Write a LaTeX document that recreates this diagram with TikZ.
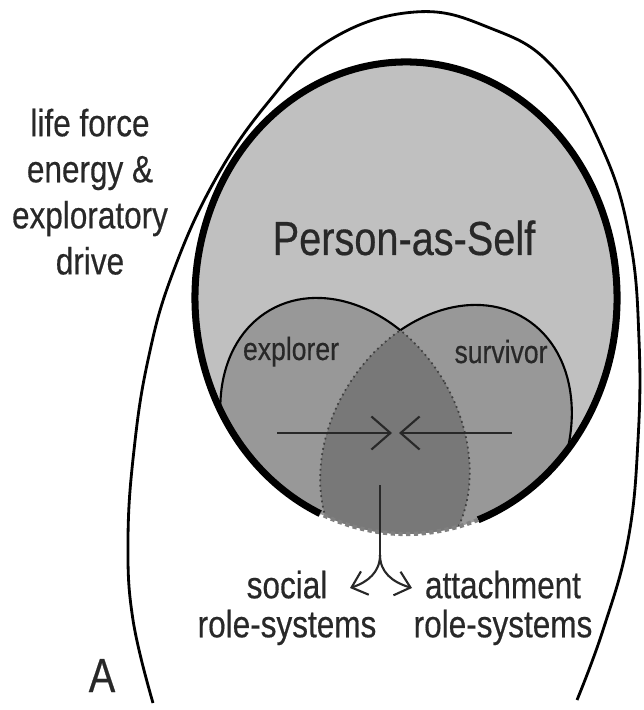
\documentclass[tikz,border=0pt]{standalone}
\usepackage{fontspec}
\setmainfont{Liberation Sans}[FakeStretch=0.83,FakeBold=0.4]
\usetikzlibrary{arrows.meta}
\definecolor{shellgray}{RGB}{192,192,192}
\definecolor{lobegray}{RGB}{152,152,152}
\definecolor{coregray}{RGB}{120,120,120}
\definecolor{ink}{RGB}{40,40,40}
\newcommand{\selfshape}{(406,298) ellipse [x radius=211,y radius=236]}
\newcommand{\explshape}{(345,440) ellipse [x radius=115,y radius=150,rotate=30]}
\newcommand{\survshape}{(446,446) ellipse [x radius=115,y radius=150,rotate=-32]}
\tikzset{
  >={Straight Barb[length=5.4pt,width=9.4pt]},
  selffill/.style={fill=shellgray},
  lobefill/.style={fill=lobegray},
  corefill/.style={fill=coregray},
  lobeline/.style={draw=black,line width=0.6pt},
  seamline/.style={draw=black!75,line width=0.5pt,densely dotted},
  rimline/.style={draw=black,line width=2pt},
  eggline/.style={draw=black,line width=0.8pt},
  flow/.style={->,draw=ink,line width=0.6pt},
  tag/.style={font=\fontsize{10.8}{#1}\selectfont,text=ink,align=center,inner sep=0pt},
  tag/.default=13.1,
  lobe tag/.style={font=\fontsize{9.1}{11}\selectfont,text=ink,inner sep=0pt},
  big tag/.style={font=\fontsize{13.6}{16}\selectfont,text=ink,inner sep=0pt},
}
\begin{document}
\begin{tikzpicture}[x=0.01cm,y=-0.01cm]
  \useasboundingbox (0,0) rectangle (643,710);
  % person-as-self with the two overlapping lobes
  \fill[selffill] \selfshape;
  \begin{scope}
    \clip \selfshape;
    \fill[lobefill] \explshape;
    \fill[lobefill] \survshape;
    \begin{scope}
      \clip \explshape;
      \fill[corefill] \survshape;
      \draw[seamline] \survshape;
    \end{scope}
    \begin{scope}
      \clip \survshape;
      \draw[seamline] \explshape;
    \end{scope}
    \begin{scope}[even odd rule]
      \clip (0,0) rectangle (643,710) \survshape;
      \draw[lobeline] \explshape;
    \end{scope}
    \begin{scope}[even odd rule]
      \clip (0,0) rectangle (643,710) \explshape;
      \draw[lobeline] \survshape;
    \end{scope}
  \end{scope}
  \draw[rimline] (406,298) +(114:211 and 236) arc [start angle=114,end angle=430,x radius=211,y radius=236];
  \draw[gray,densely dotted,line width=1.2pt] (406,298) +(70:211 and 236) arc [start angle=70,end angle=114,x radius=211,y radius=236];
  % outer open curve
  \draw[eggline] plot[smooth,tension=0.7] coordinates {(153,703) (133,620) (128,540) (134,450) (148,360) (172,275) (215,180) (270,100) (330,40) (415,12) (490,28) (553,67) (603,150) (630,240) (639,340) (638,440) (628,540) (603,630) (577,700)};
  % labels
  \node[big tag,anchor=base] (self) at (404,255) {Person-as-Self};
  \node[lobe tag,anchor=base] (explorer) at (291,360) {explorer};
  \node[lobe tag,anchor=base] (survivor) at (501,363) {survivor};
  \node[tag,anchor=north] (drive) at (90,108) {life force\\energy \&\\exploratory\\drive};
  \node[tag=11.1,anchor=north] (social) at (287,570) {social\\role-systems};
  \node[tag=11.1,anchor=north] (attach) at (503,570) {attachment\\role-systems};
  \node[big tag,anchor=base] (panel) at (102,692) {A};
  % arrows
  \coordinate (wtail) at (277,433);
  \coordinate (wtip) at (392,433);
  \coordinate (etail) at (512,433);
  \coordinate (etip) at (399,433);
  \foreach \a/\b in {wtail/wtip,etail/etip} \draw[flow] (\a) -- (\b);
  \coordinate (stem) at (380,485);
  \coordinate (fork) at (380,555);
  \coordinate (stip) at (350,588);
  \coordinate (atip) at (412,588);
  \draw[ink,line width=0.6pt] (stem) -- (fork);
  \draw[flow,>={Straight Barb[length=4pt,width=7pt]}] (fork) .. controls (380,572) and (368,582) .. (stip);
  \draw[flow,>={Straight Barb[length=4pt,width=7pt]}] (fork) .. controls (380,572) and (392,582) .. (atip);
\end{tikzpicture}
\end{document}
